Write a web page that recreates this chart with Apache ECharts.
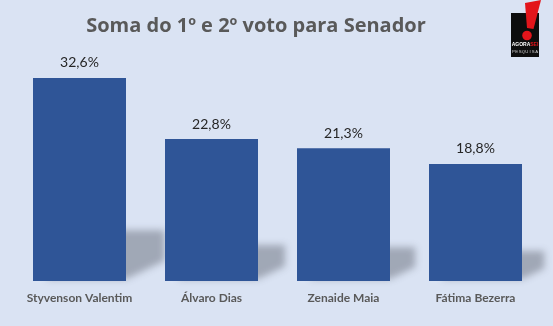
<!DOCTYPE html>
<html>
<head>
<meta charset="utf-8">
<script src="https://cdn.jsdelivr.net/npm/echarts@6/dist/echarts.min.js"></script>
<style>
  html, body { margin: 0; padding: 0; background: #dae3f3; }
  #chart { width: 553px; height: 326px; }
</style>
</head>
<body>
<div id="chart"></div>
<script>
// Soma do 1º e 2º voto por candidato (%)
const categories = ['Styvenson Valentim', 'Álvaro Dias', 'Zenaide Maia', 'Fátima Bezerra'];
const values = [32.6, 22.8, 21.3, 18.8];

const chart = echarts.init(document.getElementById('chart'), null, { renderer: 'canvas' });

const fmt = v => v.toFixed(1).replace('.', ',') + '%';
const BAR_W = 93;
const OFF = 2000; // the shape sits off-canvas; only its blurred shadow is shown

// Soft perspective shadow cast behind each bar, toward the upper right
function renderShadow(params, api) {
  const idx = api.value(0);
  const v = api.value(1);
  const top = api.coord([idx, v]);
  const base = api.coord([idx, 0]);
  const half = BAR_W / 2;
  const h = base[1] - top[1];
  const xL = base[0] - half + 14, xR = base[0] + half, yB = base[1] - 2;
  const dx = 0.19 * h;
  const yT = yB - 0.24 * h;
  const pts = [[xL, yB], [xR, yB], [xR + dx, yB - 0.09 * h], [xR + dx, yT], [xL, yT]]
    .map(p => [p[0] - OFF, p[1]]);
  return {
    type: 'polygon',
    shape: { points: pts },
    style: {
      fill: '#000',
      shadowBlur: 7,
      shadowOffsetX: OFF,
      shadowOffsetY: 0,
      shadowColor: 'rgba(80,86,98,0.42)'
    }
  };
}

const logoLetters = 'PESQUISA'.split('');

chart.setOption({
  backgroundColor: '#dae3f3',
  animation: false,
  textStyle: { fontFamily: 'Lato, "Open Sans", sans-serif' },
  title: {
    text: 'Soma do 1º e 2º voto para Senador',
    left: 251, top: 11, textAlign: 'center',
    textStyle: { fontFamily: '"Open Sans", sans-serif', fontSize: 20, fontWeight: 'bold', color: '#595959' }
  },
  grid: { left: 13.5, right: 11.5, top: 63, bottom: 45 },
  xAxis: {
    type: 'category',
    data: categories,
    axisLine: { show: false },
    axisTick: { show: false },
    axisLabel: { margin: 11, fontSize: 12, fontWeight: 'bold', color: '#595959', interval: 0 }
  },
  yAxis: {
    type: 'value', min: 0, max: 35, show: false,
    splitLine: { show: false }
  },
  series: [
    {
      type: 'custom',
      renderItem: renderShadow,
      data: values.map((v, i) => [i, v]),
      z: 1,
      silent: true
    },
    {
      type: 'bar',
      data: values,
      barWidth: BAR_W,
      z: 2,
      itemStyle: { color: '#2f5597' },
      label: {
        show: true, position: 'top', distance: 8,
        fontSize: 14, color: '#262626',
        formatter: p => fmt(p.value)
      }
    }
  ],
  graphic: [
    { type: 'rect', shape: { x: 511, y: 13, width: 28, height: 44 }, style: { fill: '#0d0d0d' } },
    { type: 'polygon', shape: { points: [[525, 3], [541, 0], [533.5, 29], [527, 28]] }, style: { fill: '#e3151b' } },
    { type: 'circle', shape: { cx: 527, cy: 35.5, r: 4.8 }, style: { fill: '#e3151b' } },
    { type: 'text', x: 525, y: 45, style: {
        rich: { a: { fill: '#ffffff', fontSize: 5, fontWeight: 'bold', fontFamily: 'Liberation Sans' },
                b: { fill: '#e3151b', fontSize: 5, fontWeight: 'bold', fontFamily: 'Liberation Sans' } },
        text: '{a|AGORA}{b|SEI}', align: 'center', verticalAlign: 'middle' } }
  ].concat(logoLetters.map((ch, i) => ({
    type: 'text', x: 513.5 + i * 3.3, y: 52, style: {
      text: ch, fill: '#cfcfcf', fontSize: 4.3, fontFamily: 'Liberation Sans',
      align: 'center', verticalAlign: 'middle' }
  })))
});
</script>
</body>
</html>
